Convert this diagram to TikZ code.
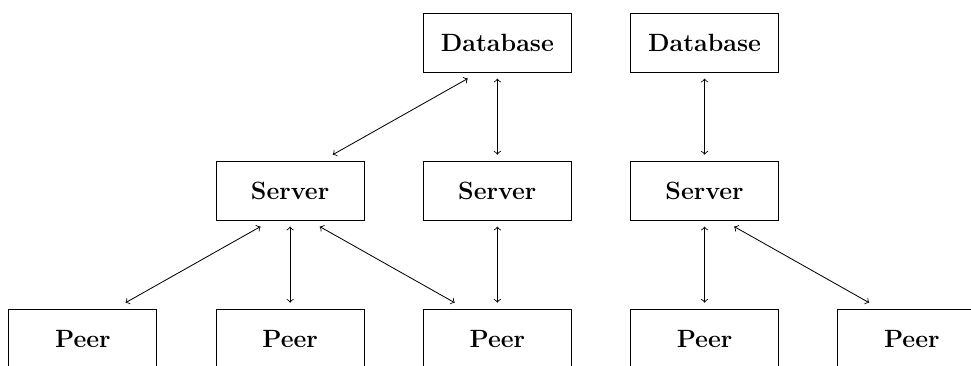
\documentclass[tikz,border=0pt]{standalone}
\usetikzlibrary{arrows,calc}

\begin{document}
\begin{tikzpicture}[box/.style={draw, minimum width=2.5cm, minimum height=1cm, font=\large\bfseries}]
    \useasboundingbox (-1.4,-0.446) rectangle (15.0,5.72);
    \node[box] (db1) at (7,5) {Database};
    \node[box] (db2) at (10.5,5) {Database};

    \node[box] (srv1) at (3.5,2.5) {Server};
    \node[box] (srv2) at (7,2.5) {Server};
    \node[box] (srv3) at (10.5,2.5) {Server};

    \node[box] (peer1) at (0,0) {Peer};
    \node[box] (peer2) at (3.5,0) {Peer};
    \node[box] (peer3) at (7,0) {Peer};
    \node[box] (peer4) at (10.5,0) {Peer};
    \node[box] (peer5) at (14,0) {Peer};

    \draw[<->] ($(db1.south)+(-0.5,-0.1)$) -- ($(srv1.north)+(0.72,0.1)$);
    \draw[<->] ($(db1.south)+(0,-0.1)$) -- ($(srv2.north)+(0,0.1)$);
    \draw[<->] ($(db2.south)+(0,-0.1)$) -- ($(srv3.north)+(0,0.1)$);

    \draw[<->] ($(srv1.south)+(-0.5,-0.1)$) -- ($(peer1.north)+(0.72,0.1)$);
    \draw[<->] ($(srv1.south)+(0,-0.1)$) -- ($(peer2.north)+(0,0.1)$);
    \draw[<->] ($(srv1.south)+(0.5,-0.1)$) -- ($(peer3.north)+(-0.72,0.1)$);
    \draw[<->] ($(srv2.south)+(0,-0.1)$) -- ($(peer3.north)+(0,0.1)$);
    \draw[<->] ($(srv3.south)+(0,-0.1)$) -- ($(peer4.north)+(0,0.1)$);
    \draw[<->] ($(srv3.south)+(0.5,-0.1)$) -- ($(peer5.north)+(-0.72,0.1)$);
\end{tikzpicture}
\end{document}
